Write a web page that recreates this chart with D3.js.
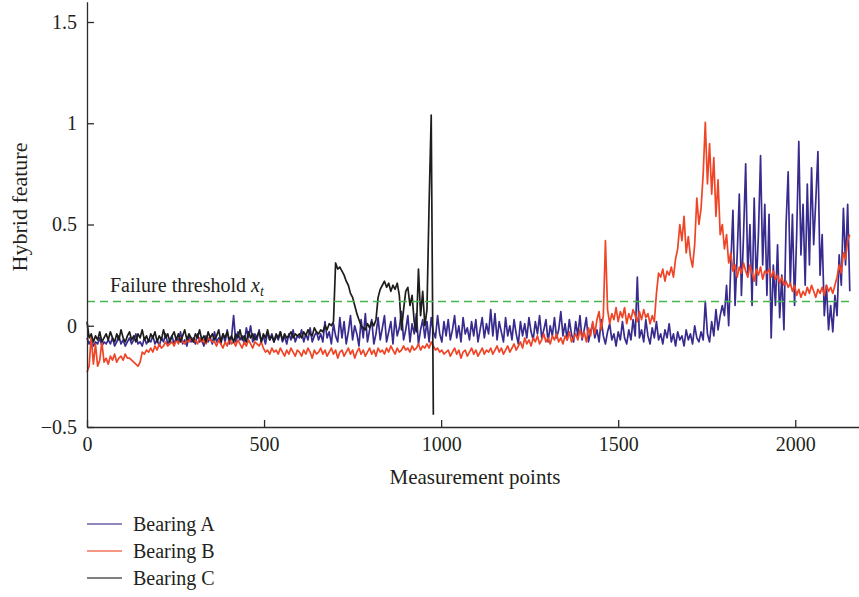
<!DOCTYPE html>
<html>
<head>
<meta charset="utf-8">
<script src="https://cdn.jsdelivr.net/npm/d3@7"></script>
<style>
  html, body { margin: 0; padding: 0; background: #ffffff; }
  svg { display: block; }
  text { font-family: "Liberation Serif", "Times New Roman", serif; fill: #231f20; }
</style>
</head>
<body>
<svg id="chart" width="859" height="597"></svg>
<script>
// ---------------- data ----------------
// measurement point spacing between consecutive stored samples
const sampleStep = 6;

// Bearing A (blue) – samples at points 0, 6, 12, ... 2154
const bearingA = [
  -0.06,-0.09,-0.07,-0.1,-0.08,-0.09,-0.06,-0.1,-0.08,-0.09,      // 0
  -0.07,-0.09,-0.06,-0.1,-0.08,-0.05,-0.09,-0.07,-0.1,-0.08,      // 60
  -0.06,-0.09,-0.07,-0.04,-0.09,-0.08,-0.1,-0.06,-0.09,-0.07,     // 120
  -0.08,-0.05,-0.09,-0.07,-0.1,-0.06,-0.08,-0.04,-0.09,-0.07,     // 180
  -0.05,-0.09,-0.06,-0.08,-0.03,-0.09,-0.07,-0.1,-0.05,-0.08,     // 240
  -0.06,-0.09,-0.04,-0.08,-0.07,-0.1,-0.05,-0.08,-0.06,-0.09,     // 300
  -0.03,-0.08,-0.06,-0.09,-0.04,-0.08,-0.02,-0.09,-0.06,0.05,     // 360
  -0.08,-0.03,-0.07,-0.05,-0.09,-0.01,-0.06,0.0,-0.08,-0.04,      // 420
  -0.07,-0.02,-0.08,-0.05,-0.09,-0.03,-0.07,-0.04,-0.08,-0.05,    // 480
  -0.07,-0.03,-0.08,-0.05,-0.09,-0.04,-0.07,-0.02,-0.08,-0.05,    // 540
  -0.06,-0.02,-0.08,-0.04,-0.07,-0.01,-0.08,-0.05,-0.03,-0.07,    // 600
  -0.04,-0.08,0.02,-0.06,-0.03,-0.09,0.01,-0.05,-0.08,0.04,       // 660
  -0.06,0.02,-0.09,-0.03,0.05,-0.07,0.0,-0.04,-0.1,0.03,          // 720
  -0.06,0.06,-0.08,-0.02,0.03,-0.09,-0.04,0.04,-0.07,-0.01,       // 780
  0.05,-0.08,-0.03,0.02,-0.09,0.04,-0.05,-0.01,0.07,-0.07,        // 840
  -0.02,0.05,-0.08,0.01,-0.04,0.06,-0.09,-0.02,0.03,-0.06,        // 900
  0.02,-0.08,0.04,-0.03,-0.06,0.05,-0.04,-0.08,0.02,-0.05,        // 960
  0.03,-0.07,-0.02,0.05,-0.06,0.0,-0.08,0.04,-0.04,-0.01,         // 1020
  -0.07,0.02,-0.05,0.03,-0.08,-0.02,0.04,-0.06,0.01,-0.04,        // 1080
  0.08,-0.05,0.06,-0.07,0.02,-0.03,-0.08,0.04,-0.05,0.0,          // 1140
  -0.07,0.03,-0.04,-0.09,0.02,-0.05,0.01,-0.06,0.04,-0.03,        // 1200
  -0.07,0.02,-0.04,0.05,-0.06,-0.02,0.03,-0.08,0.0,-0.05,         // 1260
  0.04,-0.06,-0.02,0.07,-0.05,0.01,-0.07,0.03,-0.04,-0.08,        // 1320
  0.02,-0.05,0.05,-0.07,-0.02,0.04,-0.08,-0.03,0.01,-0.06,        // 1380
  -0.02,-0.08,0.03,-0.05,-0.09,-0.03,0.01,-0.07,-0.04,-0.1,       // 1440
  -0.03,-0.07,0.02,-0.06,-0.09,-0.02,-0.07,0.03,-0.05,0.24,       // 1500
  -0.06,-0.02,-0.08,0.03,-0.05,-0.09,-0.01,-0.06,0.02,-0.07,      // 1560
  -0.04,-0.09,-0.02,-0.06,0.01,-0.08,-0.04,-0.1,-0.03,-0.07,      // 1620
  -0.05,-0.1,-0.02,-0.07,-0.04,-0.09,0.0,-0.06,-0.08,-0.03,       // 1680
  -0.07,0.12,-0.04,-0.08,0.02,-0.05,0.08,-0.02,0.05,0.1,          // 1740
  0.05,0.2,0.0,0.3,0.57,0.1,0.35,0.65,0.15,0.45,                  // 1800
  0.8,0.25,0.5,0.1,0.63,0.2,0.45,0.84,0.3,0.6,                    // 1860
  0.15,0.55,-0.06,0.3,0.1,0.4,0.04,0.25,-0.02,0.5,                // 1920
  0.76,0.2,0.55,0.1,0.45,0.91,0.35,0.6,0.2,0.7,                   // 1980
  0.3,0.78,0.4,0.62,0.86,0.25,0.45,0.05,0.2,-0.02,                // 2040
  0.1,-0.03,0.15,0.05,0.35,0.2,0.58,0.3,0.6,0.17                  // 2100
];

// Bearing B (red) – samples at points 0, 6, 12, ... 2154
const bearingB = [
  -0.23,-0.2,-0.05,-0.19,-0.09,-0.2,-0.17,-0.08,-0.18,-0.16,      // 0
  -0.19,-0.15,-0.17,-0.14,-0.18,-0.16,-0.15,-0.17,-0.14,-0.16,    // 60
  -0.16,-0.17,-0.18,-0.19,-0.2,-0.18,-0.13,-0.14,-0.12,-0.13,     // 120
  -0.11,-0.13,-0.1,-0.12,-0.09,-0.11,-0.1,-0.08,-0.1,-0.09,       // 180
  -0.08,-0.1,-0.07,-0.09,-0.06,-0.08,-0.09,-0.07,-0.08,-0.06,     // 240
  -0.08,-0.07,-0.09,-0.06,-0.08,-0.07,-0.09,-0.06,-0.07,-0.08,    // 300
  -0.08,-0.1,-0.07,-0.09,-0.11,-0.08,-0.1,-0.06,-0.09,-0.08,      // 360
  -0.1,-0.07,-0.09,-0.11,-0.08,-0.1,-0.07,-0.09,-0.11,-0.08,      // 420
  -0.09,-0.1,-0.08,-0.11,-0.13,-0.12,-0.14,-0.11,-0.13,-0.12,     // 480
  -0.14,-0.11,-0.13,-0.15,-0.12,-0.14,-0.11,-0.13,-0.15,-0.12,    // 540
  -0.13,-0.15,-0.12,-0.14,-0.11,-0.13,-0.16,-0.12,-0.14,-0.13,    // 600
  -0.11,-0.14,-0.12,-0.15,-0.13,-0.11,-0.14,-0.12,-0.16,-0.13,    // 660
  -0.12,-0.15,-0.13,-0.11,-0.14,-0.12,-0.16,-0.13,-0.11,-0.14,    // 720
  -0.12,-0.15,-0.13,-0.11,-0.14,-0.12,-0.15,-0.11,-0.13,-0.12,    // 780
  -0.14,-0.11,-0.13,-0.1,-0.12,-0.14,-0.11,-0.13,-0.12,-0.1,      // 840
  -0.12,-0.11,-0.13,-0.1,-0.12,-0.11,-0.09,-0.12,-0.1,-0.11,      // 900
  -0.09,-0.11,-0.08,-0.1,-0.12,-0.11,-0.13,-0.12,-0.14,-0.13,     // 960
  -0.12,-0.15,-0.13,-0.11,-0.14,-0.12,-0.16,-0.13,-0.12,-0.15,    // 1020
  -0.13,-0.11,-0.14,-0.12,-0.15,-0.13,-0.11,-0.14,-0.12,-0.13,    // 1080
  -0.11,-0.14,-0.12,-0.1,-0.13,-0.11,-0.14,-0.12,-0.1,-0.13,      // 1140
  -0.11,-0.09,-0.12,-0.1,-0.08,-0.11,-0.06,-0.09,-0.07,-0.1,      // 1200
  -0.06,-0.08,-0.05,-0.09,-0.07,-0.04,-0.08,-0.06,-0.09,-0.05,    // 1260
  -0.07,-0.04,-0.08,-0.06,-0.09,-0.05,-0.07,-0.03,-0.08,-0.06,    // 1320
  -0.04,-0.07,-0.02,-0.06,-0.03,-0.08,-0.01,-0.05,0.02,-0.04,     // 1380
  0.03,0.07,-0.02,0.05,0.42,0.08,0.01,0.06,0.03,0.09,             // 1440
  0.02,0.07,0.04,0.09,0.01,0.06,0.03,0.08,0.05,0.02,              // 1500
  0.07,0.03,0.08,0.04,0.06,0.01,0.05,0.02,0.16,0.26,              // 1560
  0.24,0.28,0.22,0.27,0.25,0.29,0.24,0.33,0.38,0.5,               // 1620
  0.42,0.54,0.36,0.44,0.34,0.29,0.4,0.63,0.5,0.58,                // 1680
  0.75,1.005,0.7,0.9,0.65,0.83,0.54,0.72,0.45,0.5,                // 1740
  0.38,0.45,0.31,0.36,0.27,0.3,0.24,0.29,0.26,0.31,               // 1800
  0.27,0.24,0.3,0.26,0.22,0.28,0.25,0.29,0.23,0.27,               // 1860
  0.26,0.28,0.24,0.27,0.23,0.25,0.21,0.24,0.2,0.22,               // 1920
  0.19,0.21,0.17,0.2,0.15,0.18,0.14,0.17,0.15,0.19,               // 1980
  0.16,0.2,0.17,0.14,0.18,0.16,0.19,0.15,0.2,0.17,                // 2040
  0.19,0.16,0.2,0.24,0.3,0.26,0.36,0.33,0.42,0.45                 // 2100
];

// Bearing C (black) – samples at points 0, 6, 12, ... 978
const bearingC = [
  0.02,-0.06,-0.04,-0.08,-0.05,-0.07,-0.03,-0.08,-0.06,-0.04,     // 0
  -0.07,-0.03,-0.06,-0.08,-0.04,-0.07,-0.02,-0.06,-0.08,-0.05,    // 60
  -0.03,-0.07,-0.05,-0.08,-0.04,-0.06,-0.02,-0.07,-0.05,-0.08,    // 120
  -0.04,-0.06,-0.03,-0.08,-0.05,-0.07,-0.02,-0.06,-0.04,-0.08,    // 180
  -0.05,-0.03,-0.07,-0.04,-0.08,-0.05,-0.02,-0.07,-0.04,-0.06,    // 240
  -0.08,-0.04,-0.06,-0.02,-0.07,-0.05,-0.08,-0.03,-0.06,-0.04,    // 300
  -0.07,-0.05,-0.02,-0.08,-0.04,-0.06,-0.03,-0.07,-0.05,-0.08,    // 360
  -0.04,-0.06,-0.02,-0.07,-0.05,-0.08,-0.03,-0.06,-0.04,-0.07,    // 420
  -0.05,-0.03,-0.08,-0.04,-0.06,-0.02,-0.07,-0.05,-0.08,-0.04,    // 480
  -0.06,-0.03,-0.07,-0.04,-0.06,-0.05,-0.03,-0.06,-0.04,-0.05,    // 540
  -0.04,-0.06,-0.03,-0.05,-0.02,-0.04,-0.05,-0.01,-0.03,-0.04,    // 600
  -0.02,-0.03,0.0,-0.02,0.01,0.0,0.02,0.31,0.28,0.29,             // 660
  0.27,0.25,0.22,0.2,0.16,0.14,0.1,0.06,0.03,0.0,                 // 720
  -0.01,-0.02,0.01,-0.01,0.02,0.0,0.03,0.14,0.18,0.2,             // 780
  0.22,0.19,0.21,0.17,0.2,0.18,0.21,0.15,-0.02,0.08,              // 840
  0.17,0.19,0.1,0.15,0.02,-0.03,0.28,0.05,0.17,0.0,               // 900
  0.08,0.6,1.04,-0.44                                             // 960
];

const seriesNames = ["Bearing A", "Bearing B", "Bearing C"];
const seriesColors = ["#372c8e", "#ef4426", "#1d1d1b"];
const thresholdValue = 0.12;

const xTickValues = [0, 500, 1000, 1500, 2000];
const xTickLabels = ["0", "500", "1000", "1500", "2000"];
const yTickValues = [-0.5, 0, 0.5, 1, 1.5];
const yTickLabels = ["\u22120.5", "0", "0.5", "1", "1.5"];

// ---------------- chart ----------------
const svg = d3.select("#chart");
const x = d3.scaleLinear().domain([0, 2180]).range([87, 859]);
const y = d3.scaleLinear().domain([-0.5, 1.6]).range([427, 1.75]);

const line = d3.line()
  .x((d, i) => x(i * sampleStep))
  .y(d => y(d));

const allSeries = [bearingA, bearingB, bearingC];
allSeries.forEach((s, k) => {
  svg.append("path")
    .datum(s)
    .attr("fill", "none")
    .attr("stroke", seriesColors[k])
    .attr("stroke-width", 1.7)
    .attr("stroke-linejoin", "round")
    .attr("d", line);
});

// threshold
svg.append("line")
  .attr("x1", x(0)).attr("x2", x(2165))
  .attr("y1", y(thresholdValue)).attr("y2", y(thresholdValue))
  .attr("stroke", "#45b64b")
  .attr("stroke-width", 1.4)
  .attr("stroke-dasharray", "8,5");

const thr = svg.append("text")
  .attr("x", 110)
  .attr("y", y(thresholdValue) - 9)
  .attr("font-size", 20);
thr.append("tspan").text("Failure threshold ");
thr.append("tspan").attr("font-style", "italic").text("x");
thr.append("tspan").attr("font-style", "italic").attr("font-size", 14).attr("dy", 4).text("t");

// axes
const yAxis = d3.axisLeft(y)
  .tickValues(yTickValues)
  .tickFormat((d, i) => yTickLabels[i])
  .tickSizeInner(-7)
  .tickSizeOuter(0)
  .tickPadding(10);
const xAxis = d3.axisBottom(x)
  .tickValues(xTickValues)
  .tickFormat((d, i) => xTickLabels[i])
  .tickSizeInner(-7)
  .tickSizeOuter(0)
  .tickPadding(10);

const gy = svg.append("g").attr("transform", `translate(${x(0)},0)`).call(yAxis);
const gx = svg.append("g").attr("transform", `translate(0,${y(-0.5)})`).call(xAxis);
[gx, gy].forEach(g => {
  g.selectAll("path, line").attr("stroke", "#2b2b2b").attr("stroke-width", 1.3);
  g.selectAll("text").attr("font-size", 20).attr("font-family", "Liberation Serif, serif").attr("fill", "#231f20");
});

// axis titles
svg.append("text")
  .attr("x", 475).attr("y", 484)
  .attr("text-anchor", "middle")
  .attr("font-size", 21)
  .text("Measurement points");
svg.append("text")
  .attr("transform", "translate(27,207) rotate(-90)")
  .attr("text-anchor", "middle")
  .attr("font-size", 22)
  .text("Hybrid feature");

// legend
const legendY = [524, 551, 578];
seriesNames.forEach((name, k) => {
  svg.append("line")
    .attr("x1", 87).attr("x2", 122)
    .attr("y1", legendY[k]).attr("y2", legendY[k])
    .attr("stroke", seriesColors[k])
    .attr("stroke-opacity", 0.75)
    .attr("stroke-width", 1.3);
  svg.append("text")
    .attr("x", 133).attr("y", legendY[k] + 6.5)
    .attr("font-size", 20)
    .text(name);
});
</script>
</body>
</html>
